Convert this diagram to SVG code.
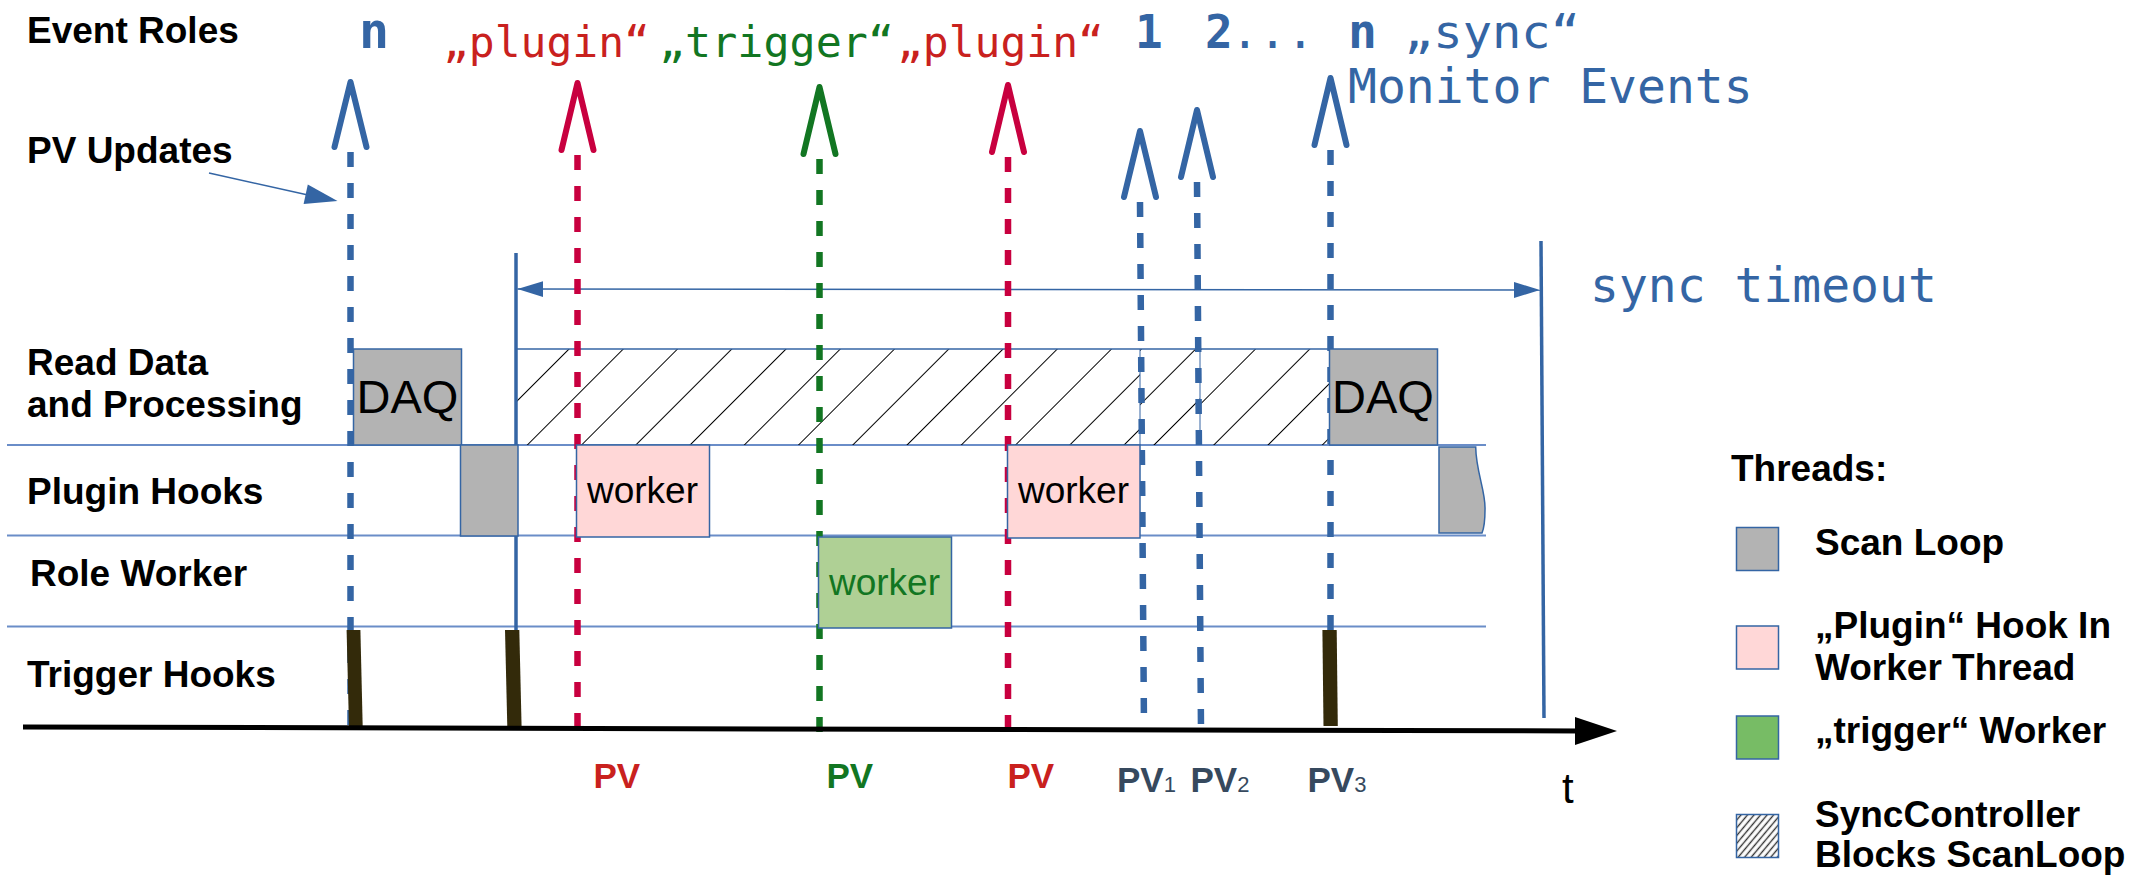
<svg xmlns="http://www.w3.org/2000/svg" width="2153" height="876" viewBox="0 0 2153 876">
<style>
.lbl{font-family:"Liberation Sans",Arial,sans-serif;font-weight:bold;font-size:37px;fill:#000}
.box{font-family:"Liberation Sans",Arial,sans-serif;font-size:37px;fill:#000;text-anchor:middle}
.daq{font-size:47px}
.mono{font-family:"DejaVu Sans Mono","Liberation Mono",monospace}
.pv{font-family:"Liberation Sans",Arial,sans-serif;font-weight:bold;font-size:35px}
.row{stroke:#6a8dc8;stroke-width:2;fill:none}
.thin{stroke:#3465a4;stroke-width:1.5}
.dash{fill:none;stroke-width:6.5;stroke-dasharray:15 16}
.vee{fill:none;stroke-width:6;stroke-linecap:round;stroke-linejoin:round}
.bar{fill:#332a0a}
</style>
<defs>
<pattern id="hA" patternUnits="userSpaceOnUse" width="38.36" height="20" patternTransform="translate(513.74,431.44) rotate(45)"><line x1="19.18" y1="-1" x2="19.18" y2="21" stroke="#000" stroke-width="1"/></pattern>
<pattern id="hB" patternUnits="userSpaceOnUse" width="38.36" height="20" patternTransform="translate(1140.44,431.44) rotate(45)"><line x1="19.18" y1="-1" x2="19.18" y2="21" stroke="#000" stroke-width="1"/></pattern>
<pattern id="hC" patternUnits="userSpaceOnUse" width="38.36" height="20" patternTransform="translate(1200.24,431.44) rotate(45)"><line x1="19.18" y1="-1" x2="19.18" y2="21" stroke="#000" stroke-width="1"/></pattern>
<pattern id="hL" patternUnits="userSpaceOnUse" width="5" height="5" patternTransform="rotate(40)"><rect width="5" height="5" fill="#fff"/><line x1="2.5" y1="0" x2="2.5" y2="5" stroke="#333" stroke-width="1.4"/></pattern>
<marker id="ah" markerWidth="26" markerHeight="16" refX="26" refY="8" orient="auto" markerUnits="userSpaceOnUse"><path d="M0,0 L26,8 L0,16 Z" fill="#3465a4"/></marker>
</defs>

<g id="labels">
<text class="lbl" x="27" y="43">Event Roles</text>
<text class="lbl" x="27" y="163">PV Updates</text>
<text class="lbl" x="27" y="375">Read Data</text>
<text class="lbl" x="27" y="417">and Processing</text>
<text class="lbl" x="27" y="504">Plugin Hooks</text>
<text class="lbl" x="30" y="586">Role Worker</text>
<text class="lbl" x="27" y="687">Trigger Hooks</text>
</g>

<g id="rows">
<line class="row" x1="7" y1="445" x2="1486" y2="445"/>
<line class="row" x1="7" y1="535.5" x2="1486" y2="535.5"/>
<line class="row" x1="7" y1="626.5" x2="1486" y2="626.5"/>
</g>

<g id="sync-block">
<rect x="516" y="349" width="624" height="96" fill="url(#hA)"/>
<rect x="1140" y="349" width="60" height="96" fill="url(#hB)"/>
<rect x="1200" y="349" width="129" height="96" fill="url(#hC)"/>
<line class="thin" x1="516" y1="349" x2="1329" y2="349"/>
<line x1="1140" y1="349" x2="1140" y2="445" stroke="#3465a4" stroke-width="1"/>
<line x1="1200" y1="349" x2="1200" y2="445" stroke="#3465a4" stroke-width="1"/>
</g>

<g id="sync-timeout">
<line x1="516" y1="253" x2="516" y2="630" stroke="#3465a4" stroke-width="3.5"/>
<line x1="1541" y1="241" x2="1544" y2="718" stroke="#3465a4" stroke-width="3.5"/>
<line class="thin" x1="1000" y1="289.5" x2="517.5" y2="289" marker-end="url(#ah)"/>
<line class="thin" x1="1000" y1="289.5" x2="1540" y2="290" marker-end="url(#ah)"/>
<text class="mono" x="1590" y="302" font-size="48" fill="#3465a4">sync timeout</text>
</g>

<g id="connectors">
<line class="thin" x1="209" y1="173" x2="308" y2="195"/>
<polygon points="337.5,201 307.8,184.4 303.6,204" fill="#3465a4"/>
<polyline class="vee" stroke="#3465a4" points="334.5,147 350.5,82 366.5,147"/>
<line class="dash" stroke="#3465a4" x1="350.5" y1="152" x2="350.5" y2="732"/>
<polyline class="vee" stroke="#c8003f" points="561.5,150 577.5,83 593.5,150"/>
<line class="dash" stroke="#c8003f" x1="577.5" y1="155" x2="577.5" y2="735"/>
<polyline class="vee" stroke="#127622" points="803.5,154 819.5,87 835.5,154"/>
<line class="dash" stroke="#127622" x1="819.5" y1="159" x2="819.5" y2="737"/>
<polyline class="vee" stroke="#c8003f" points="992,152 1008,85 1024,152"/>
<line class="dash" stroke="#c8003f" x1="1008" y1="157" x2="1008" y2="735"/>
<polyline class="vee" stroke="#3465a4" points="1124,197 1140,131 1156,197"/>
<line class="dash" stroke="#3465a4" x1="1140" y1="202" x2="1144" y2="728"/>
<polyline class="vee" stroke="#3465a4" points="1181,177 1197,110 1213,177"/>
<line class="dash" stroke="#3465a4" x1="1197" y1="182" x2="1201" y2="731"/>
<polyline class="vee" stroke="#3465a4" points="1314.5,145 1330.5,78 1346.5,145"/>
<line class="dash" stroke="#3465a4" x1="1330.5" y1="150" x2="1330.5" y2="630"/>
</g>

<g id="event-roles">
<text class="mono" x="359" y="48" font-size="50" font-weight="bold" fill="#3465a4">n</text>
<text class="mono" x="443" y="57" font-size="42" fill="#c9211e" textLength="207" lengthAdjust="spacingAndGlyphs">„plugin“</text>
<text class="mono" x="659" y="57" font-size="42" fill="#127622" textLength="235" lengthAdjust="spacingAndGlyphs">„trigger“</text>
<text class="mono" x="897" y="57" font-size="42" fill="#c9211e" textLength="207" lengthAdjust="spacingAndGlyphs">„plugin“</text>
<text class="mono" x="1135" y="48" font-size="46" font-weight="bold" fill="#3465a4">1</text>
<text class="mono" x="1205" y="48" font-size="46" font-weight="bold" fill="#3465a4">2</text>
<text class="mono" x="1231" y="48" font-size="46" fill="#3465a4">...</text>
<text class="mono" x="1348" y="48" font-size="48" font-weight="bold" fill="#3465a4">n</text>
<text class="mono" x="1404" y="48" font-size="46" fill="#3465a4" textLength="176" lengthAdjust="spacingAndGlyphs">„sync“</text>
<text class="mono" x="1348" y="103" font-size="48" fill="#3465a4">Monitor Events</text>
</g>

<g id="daq1">
<rect x="353.5" y="349" width="108" height="96" fill="#b3b3b3" class="thin"/>
<text class="box daq" x="407.5" y="413">DAQ</text>
</g>
<g id="scanloop1">
<rect x="460.5" y="445" width="57.5" height="91" fill="#b3b3b3" class="thin"/>
</g>
<g id="worker1">
<rect x="576.5" y="445" width="133" height="92" fill="#ffd7d7" class="thin"/>
<text class="box" x="642.5" y="503">worker</text>
</g>
<g id="worker-trigger">
<rect x="818.5" y="537" width="133" height="91" fill="#afd095" class="thin"/>
<text class="box" x="884.5" y="595" style="fill:#127622">worker</text>
</g>
<g id="worker2">
<rect x="1007.5" y="445" width="132.5" height="93" fill="#ffd7d7" class="thin"/>
<text class="box" x="1073.5" y="503">worker</text>
</g>
<g id="daq2">
<rect x="1329.5" y="349" width="108" height="96" fill="#b3b3b3" class="thin"/>
<text class="box daq" x="1383" y="413">DAQ</text>
</g>
<g id="scanloop2">
<path d="M1439,447 L1475.7,447 C1476,472 1486,492 1485,510 C1485,520 1484,528 1482,533 L1439,533 Z" fill="#b3b3b3" class="thin"/>
</g>

<g id="trigger-hooks">
<polygon class="bar" points="346.6,630 360.4,630 362.7,727 349,727"/>
<polygon class="bar" points="505,630 519.3,630 521.6,727 507.3,727"/>
<polygon class="bar" points="1322.4,630 1336.7,630 1337.8,726 1323.5,726"/>
</g>

<g id="time-axis">
<line x1="23" y1="727" x2="1580" y2="731" stroke="#000" stroke-width="5"/>
<polygon points="1575,717 1617,731 1575,745" fill="#000"/>
<text x="1562" y="803" font-family="Liberation Sans, Arial, sans-serif" font-size="42" fill="#000">t</text>
</g>

<g id="pv-labels">
<text class="pv" x="593.5" y="788" fill="#c9211e">PV</text>
<text class="pv" x="826.5" y="788" fill="#127622">PV</text>
<text class="pv" x="1007.5" y="788" fill="#c9211e">PV</text>
<text class="pv" x="1117" y="792" fill="#36495e">PV<tspan font-size="22" font-weight="normal">1</tspan></text>
<text class="pv" x="1190.5" y="792" fill="#36495e">PV<tspan font-size="22" font-weight="normal">2</tspan></text>
<text class="pv" x="1307.5" y="792" fill="#36495e">PV<tspan font-size="22" font-weight="normal">3</tspan></text>
</g>

<g id="legend">
<text class="lbl" x="1731" y="481">Threads:</text>
<rect x="1736.5" y="527.5" width="42" height="43" fill="#b3b3b3" class="thin"/>
<text class="lbl" x="1815" y="555">Scan Loop</text>
<rect x="1736.5" y="626" width="42" height="43" fill="#ffd7d7" class="thin"/>
<text class="lbl" x="1815" y="638">„Plugin“ Hook In</text>
<text class="lbl" x="1815" y="680">Worker Thread</text>
<rect x="1736.5" y="716" width="42" height="43" fill="#77bc65" class="thin"/>
<text class="lbl" x="1815" y="743">„trigger“ Worker</text>
<rect x="1736.5" y="814.5" width="42" height="43" fill="url(#hL)" class="thin"/>
<text class="lbl" x="1815" y="827">SyncController</text>
<text class="lbl" x="1815" y="867">Blocks ScanLoop</text>
</g>
</svg>
